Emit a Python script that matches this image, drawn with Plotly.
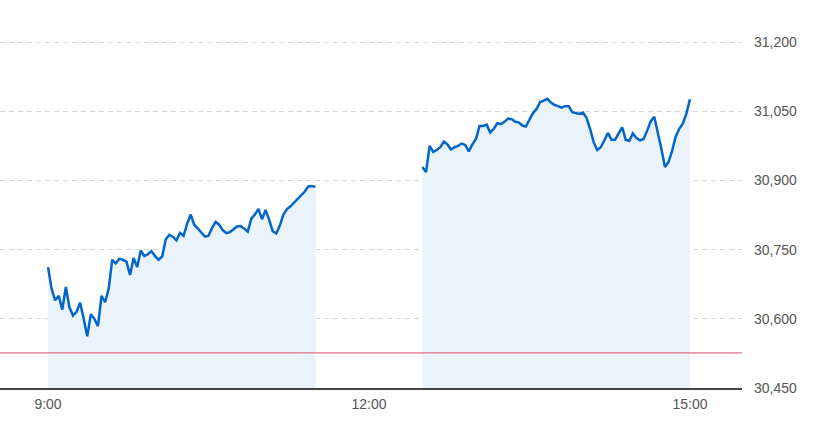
import pandas as pd
import plotly.graph_objects as go

# Morning session 9:00-11:30, 2-minute samples
am_start = "2023-06-01 09:00"
am_values = [30712, 30665, 30640, 30650, 30620, 30669, 30625, 30607, 30615, 30635,
             30600, 30562, 30610, 30600, 30584, 30650, 30636, 30665, 30728, 30720,
             30730, 30728, 30724, 30695, 30732, 30712, 30748, 30736, 30740, 30747,
             30736, 30728, 30735, 30772, 30782, 30778, 30770, 30786, 30780, 30806,
             30826, 30804, 30796, 30786, 30778, 30780, 30797, 30810, 30804, 30792,
             30786, 30788, 30794, 30800, 30801, 30796, 30789, 30817, 30826, 30838,
             30816, 30836, 30815, 30790, 30785, 30802, 30826, 30838, 30844, 30852,
             30862, 30869, 30876, 30887, 30888, 30886]

# Afternoon session 12:30-15:00, 2-minute samples
pm_start = "2023-06-01 12:30"
pm_values = [30929, 30918, 30975, 30962, 30966, 30972, 30984, 30978, 30967, 30972,
             30975, 30980, 30977, 30963, 30978, 30990, 31018, 31018, 31021, 31004,
             31012, 31024, 31022, 31027, 31034, 31033, 31027, 31026, 31019, 31017,
             31032, 31046, 31055, 31070, 31073, 31077, 31069, 31064, 31061, 31058,
             31061, 31061, 31048, 31046, 31044, 31047, 31036, 31012, 30983, 30966,
             30972, 30987, 31003, 30988, 30988, 31002, 31015, 30988, 30986, 31002,
             30992, 30987, 30990, 31008, 31028, 31038, 31005, 30968, 30929, 30940,
             30964, 30995, 31012, 31023, 31045, 31076]

prev_close = 30526

y_ticks = [30450, 30600, 30750, 30900, 31050, 31200]
x_tick_times = ["2023-06-01 09:00", "2023-06-01 12:00", "2023-06-01 15:00"]
x_tick_labels = ["9:00", "12:00", "15:00"]
x_range = ["2023-06-01 08:33:04", "2023-06-01 15:29:12"]
y_range = [30450, 31250]

am_times = pd.date_range(am_start, periods=len(am_values), freq="2min")
pm_times = pd.date_range(pm_start, periods=len(pm_values), freq="2min")

LINE = "#0066CC"
FILL = "#EAF2FB"

fig = go.Figure()
for t, v in [(am_times, am_values), (pm_times, pm_values)]:
    fig.add_trace(go.Scatter(
        x=t, y=v, mode="lines",
        line=dict(color=LINE, width=2.5),
        fill="tozeroy", fillcolor=FILL,
        hoverinfo="skip", showlegend=False,
    ))

fig.add_shape(type="line", xref="paper", x0=0, x1=1, yref="y",
              y0=prev_close, y1=prev_close,
              line=dict(color="#E27089", width=1.2), layer="above")

fig.update_layout(
    width=818, height=421,
    margin=dict(l=0, r=76, t=19, b=33),
    paper_bgcolor="white", plot_bgcolor="white",
    font=dict(family="Liberation Sans, Arial, sans-serif", size=14, color="#555555"),
    xaxis=dict(
        type="date", range=x_range,
        tickvals=x_tick_times, ticktext=x_tick_labels,
        showgrid=False, zeroline=False,
        showline=True, linecolor="#444444", linewidth=1.5,
        ticks="", ticklabelstandoff=3,
    ),
    yaxis=dict(
        side="right", range=y_range, tickvals=y_ticks,
        tickformat=",d",
        showgrid=True, gridcolor="#d6d6d6", griddash="5px,4px", gridwidth=1,
        zeroline=False, showline=False, ticks="",
        ticklabelstandoff=11,
    ),
)

fig.write_html("out.html",
               config={"displayModeBar": False, "staticPlot": True},
               post_script="document.body.style.margin='0';document.body.style.overflow='hidden';")
